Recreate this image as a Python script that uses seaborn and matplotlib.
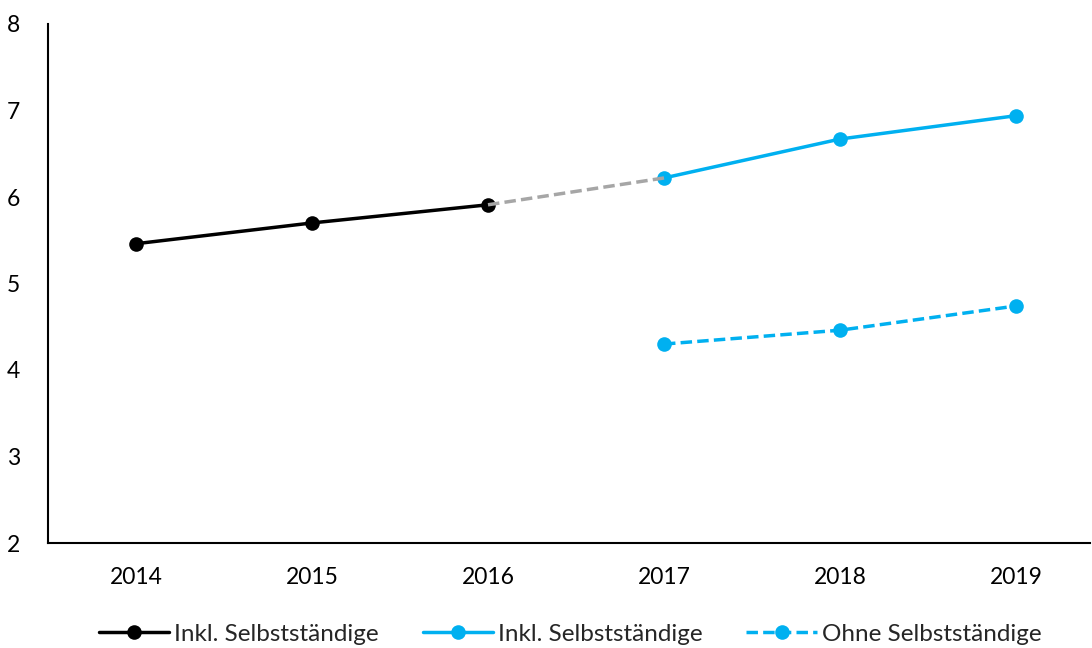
import matplotlib
matplotlib.use("Agg")
import matplotlib.pyplot as plt
import seaborn as sns
import pandas as pd
from matplotlib.lines import Line2D

years_old = [2014, 2015, 2016]
inkl_old = [5.46, 5.70, 5.91]
years_new = [2017, 2018, 2019]
inkl_new = [6.22, 6.67, 6.94]
ohne_new = [4.30, 4.46, 4.74]
bridge_years = [2016, 2017]
bridge_vals = [5.91, 6.22]
tick_years = [2014, 2015, 2016, 2017, 2018, 2019]
legend_labels = ["Inkl. Selbstständige", "Inkl. Selbstständige", "Ohne Selbstständige"]

sns.set_theme(style="white")
plt.rcParams['font.family'] = ['Lato', 'DejaVu Sans']

BLUE = "#00B0F0"
GRAY = "#A6A6A6"
DASH = (0, (3.3, 1.5))

fig = plt.figure(figsize=(10.92, 6.48), dpi=100)
ax = fig.add_axes([48/1092, 105/648, 1042/1092, 519/648])

df_old = pd.DataFrame({"year": years_old, "val": inkl_old})
df_new = pd.DataFrame({"year": years_new, "val": inkl_new})
df_ohne = pd.DataFrame({"year": years_new, "val": ohne_new})
df_bridge = pd.DataFrame({"year": bridge_years, "val": bridge_vals})

lw = 2.5
ms = 10.5
sns.lineplot(data=df_old, x="year", y="val", ax=ax, color="black", lw=lw,
             marker="o", markersize=ms, markeredgewidth=0, zorder=3)
sns.lineplot(data=df_bridge, x="year", y="val", ax=ax, color=GRAY, lw=lw,
             linestyle=DASH, zorder=4)
sns.lineplot(data=df_new, x="year", y="val", ax=ax, color=BLUE, lw=lw,
             marker="o", markersize=ms, markeredgewidth=0, zorder=3)
sns.lineplot(data=df_ohne, x="year", y="val", ax=ax, color=BLUE, lw=lw,
             marker="o", markersize=ms, markeredgewidth=0, linestyle=DASH, zorder=3)

ax.set_xlim(2013.5, 2013.5 + 1042/176)
ax.set_ylim(2, 8)
ax.set_xticks(tick_years)
ax.set_xticklabels([str(y) for y in tick_years])
ax.set_yticks(range(2, 9))
ax.set_xlabel("")
ax.set_ylabel("")
ax.tick_params(axis="both", length=0, labelsize=16.5, colors="black")
ax.tick_params(axis="x", pad=17)
ax.tick_params(axis="y", pad=20)
for s in ["top", "right"]:
    ax.spines[s].set_visible(False)
for s in ["left", "bottom"]:
    ax.spines[s].set_color("black")
    ax.spines[s].set_linewidth(1.5)

handles = [
    Line2D([], [], color="black", lw=lw, marker="o", markersize=ms, markeredgewidth=0),
    Line2D([], [], color=BLUE, lw=lw, marker="o", markersize=ms, markeredgewidth=0),
    Line2D([], [], color=BLUE, lw=lw, marker="o", markersize=ms, markeredgewidth=0, linestyle=DASH),
]
fig.legend(handles, legend_labels, loc="center", bbox_to_anchor=(0.522, 14/648),
           ncol=3, frameon=False, fontsize=17.5, handlelength=2.9, handletextpad=0.2,
           columnspacing=1.8)

fig.savefig("out.png", dpi=100)
